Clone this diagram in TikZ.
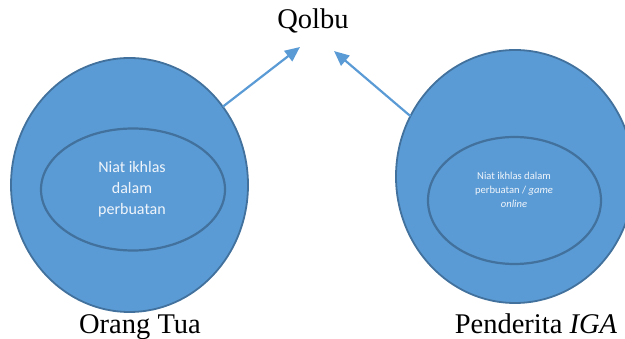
\documentclass[tikz,border=0pt]{standalone}
\usepackage{fontspec}
\setmainfont{Liberation Serif}
\newfontfamily\calibrifont{Carlito}
\usetikzlibrary{shapes.geometric,arrows.meta}

\definecolor{fillblue}{HTML}{5B9BD5}
\definecolor{edgeblue}{HTML}{41719C}
\definecolor{arrowblue}{HTML}{5B9BD5}
\definecolor{labelwhite}{HTML}{F0F5FB}

\tikzset{
  outercircle/.style={ellipse, draw=edgeblue, line width=1.8pt, fill=fillblue,
    inner sep=0pt, outer sep=0pt},
  innercircle/.style={ellipse, draw=edgeblue, line width=2.2pt,
    inner sep=0pt, outer sep=0pt},
  innertext/.style={text=labelwhite, align=center, font=\calibrifont},
  caption/.style={font=\fontsize{28.5}{32}\selectfont, inner sep=0pt},
  linkarrow/.style={draw=arrowblue, line width=2.2pt,
    -{Triangle[length=15pt,width=13pt]}},
}

\begin{document}
\begin{tikzpicture}[x=1pt, y=-1pt]
  \useasboundingbox (0,0) rectangle (625,339);

  % heart at the top
  \node[caption, anchor=base] (qolbu) at (313,29) {Qolbu};

  % parents
  \node[outercircle, minimum width=237pt, minimum height=254pt] (orang) at (129.5,185) {};
  \node[innercircle, minimum width=184pt, minimum height=122pt] (orangin) at (133,189.5) {};
  \node[innertext, font=\calibrifont\fontsize{16}{21}\selectfont] (orangtxt) at (132,189) {Niat ikhlas\\dalam\\perbuatan};
  \node[caption, anchor=base] (orangcap) at (140,334) {Orang Tua};

  % IGA sufferer
  \node[outercircle, minimum width=238pt, minimum height=253pt] (penderita) at (515,176.5) {};
  \node[innercircle, minimum width=173pt, minimum height=127pt] (penderitain) at (514.5,200.5) {};
  \node[innertext, font=\calibrifont\fontsize{10.6}{14}\selectfont] (penderitatxt) at (514,190) {Niat ikhlas dalam\\perbuatan / \textit{game}\\\textit{online}};
  \node[caption, anchor=base] (penderitacap) at (536,334) {Penderita \textit{IGA}};

  % arrow tips below the heading
  \coordinate (tipL) at (300,47);
  \coordinate (tipR) at (334,51);

  \draw[linkarrow] (orang.40) -- (tipL);
  \draw[linkarrow] (penderita.150) -- (tipR);
\end{tikzpicture}
\end{document}
